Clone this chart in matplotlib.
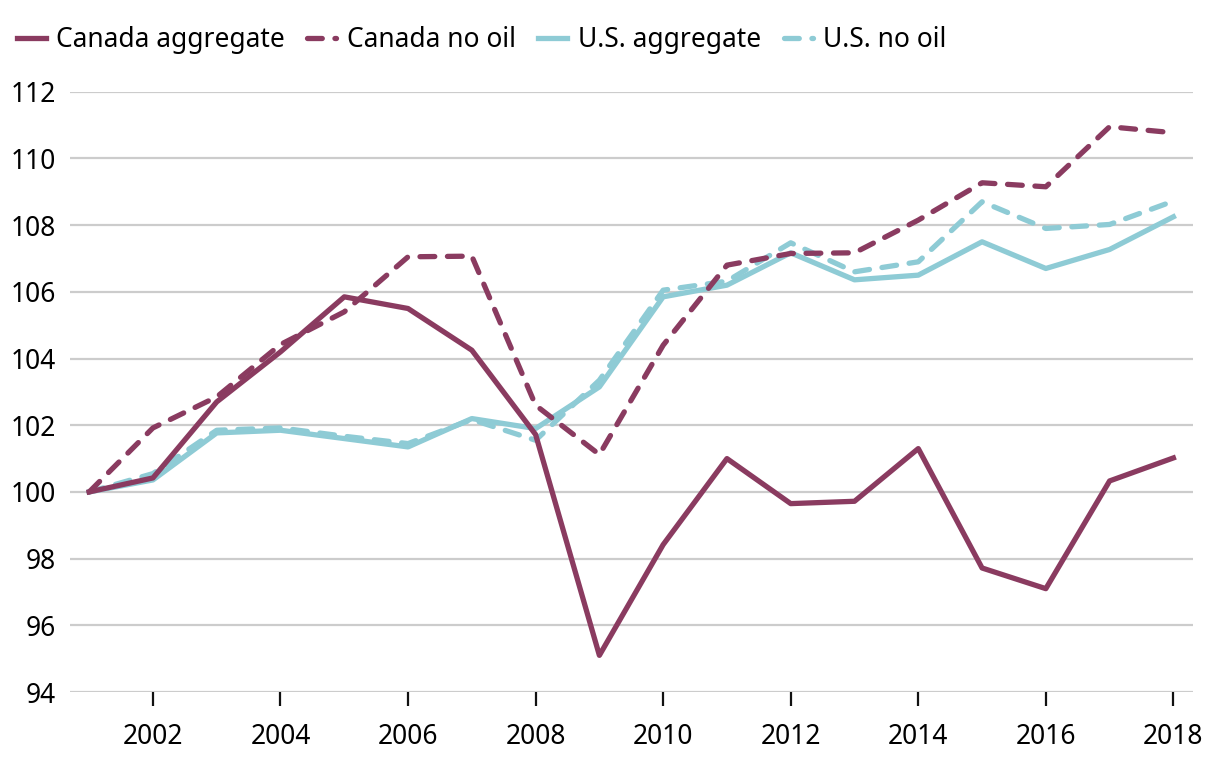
import matplotlib
matplotlib.use("Agg")
import matplotlib.pyplot as plt

plt.rcParams["font.family"] = ["Noto Sans", "DejaVu Sans"]

years = list(range(2001, 2019))

canada_aggregate = [100.0, 100.42, 102.7, 104.2, 105.85, 105.5, 104.25, 101.72, 95.1,
                    98.42, 101.0, 99.65, 99.72, 101.3, 97.72, 97.1, 100.33, 101.02]
canada_no_oil = [100.0, 101.92, 102.85, 104.42, 105.4, 107.05, 107.07, 102.6, 101.12,
                 104.4, 106.8, 107.15, 107.17, 108.15, 109.27, 109.15, 110.95, 110.77]
us_aggregate = [100.0, 100.36, 101.77, 101.85, 101.6, 101.35, 102.2, 101.9, 103.15,
                105.85, 106.2, 107.17, 106.36, 106.5, 107.5, 106.7, 107.27, 108.25]
us_no_oil = [100.0, 100.55, 101.85, 101.92, 101.67, 101.45, 102.17, 101.55, 103.35,
             106.05, 106.32, 107.47, 106.6, 106.9, 108.7, 107.9, 108.02, 108.72]

maroon = "#8a3b60"
blue = "#8ecbd5"

fig = plt.figure(figsize=(12.2, 7.58), dpi=100)
ax = fig.add_axes([0.0574, 0.087, 0.9206, 0.792])

lw = 3.8
ax.plot(years, us_aggregate, color=blue, lw=lw, label="U.S. aggregate", zorder=3)
ax.plot(years, us_no_oil, color=blue, lw=lw, dashes=(2.8, 2.4), dash_capstyle="round",
        label="U.S. no oil", zorder=4)
ax.plot(years, canada_aggregate, color=maroon, lw=lw, label="Canada aggregate", zorder=5)
ax.plot(years, canada_no_oil, color=maroon, lw=lw, dashes=(2.8, 2.4), dash_capstyle="round",
        label="Canada no oil", zorder=6)

ax.set_xlim(2000.7, 2018.31)
ax.set_ylim(94, 112)
ax.set_yticks(range(94, 113, 2))
ax.set_xticks(range(2002, 2019, 2))
ax.grid(axis="y", color="#cccccc", lw=1.6)
ax.set_axisbelow(True)
for s in ax.spines.values():
    s.set_visible(False)
ax.tick_params(axis="y", length=0, pad=10, labelsize=19)
ax.tick_params(axis="x", length=10, width=1.6, color="#111111", pad=12, labelsize=19,
               direction="out")

handles, labels = ax.get_legend_handles_labels()
order = [2, 3, 0, 1]
leg = fig.legend([handles[i] for i in order], [labels[i] for i in order],
                 loc="upper left", bbox_to_anchor=(-0.008, 1.0), ncol=4, frameon=False,
                 fontsize=19, handlelength=1.1, handletextpad=0.4, columnspacing=0.85,
                 borderaxespad=0.6)

fig.savefig("out.png", dpi=100)
